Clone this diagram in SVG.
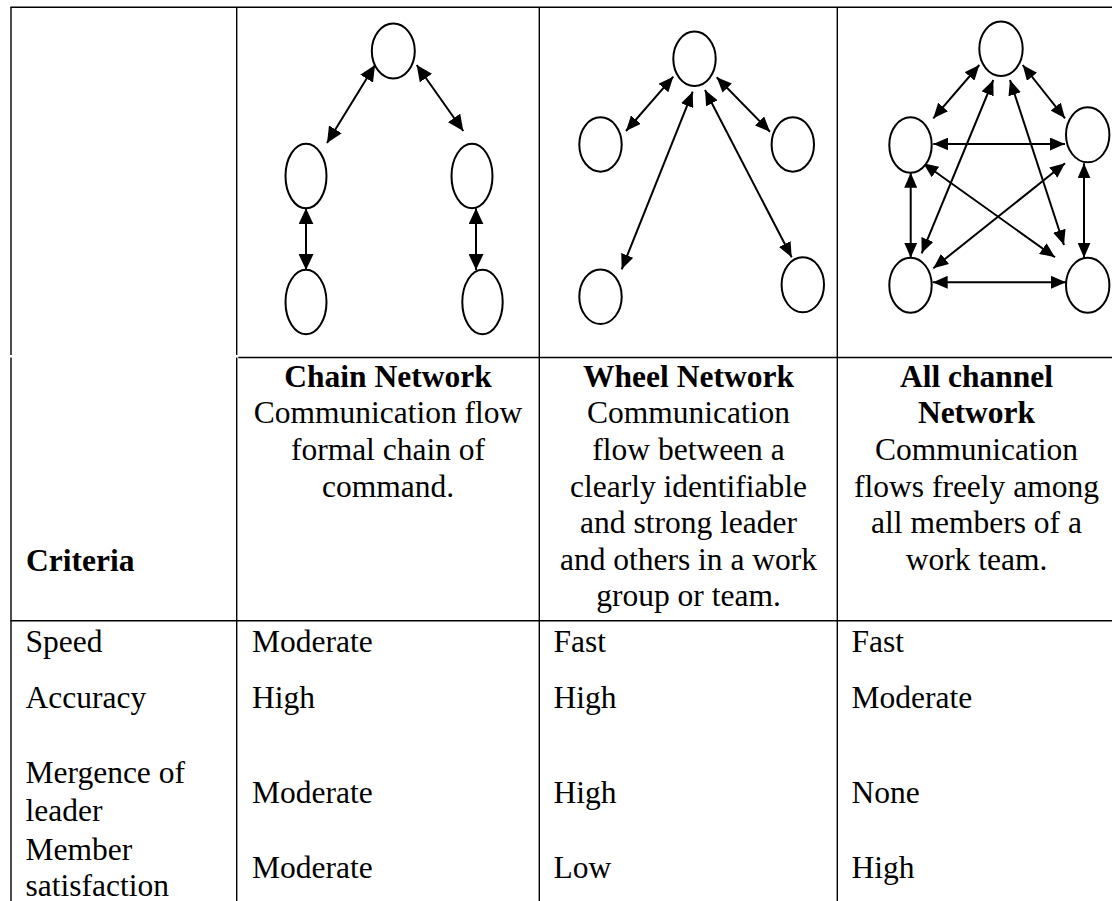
<svg xmlns="http://www.w3.org/2000/svg" width="1112" height="901" viewBox="0 0 1112 901">
  <style>
    .grid { stroke: #000; stroke-width: 1.4; fill: none; }
    .node { fill: #fff; stroke: #000; stroke-width: 2; }
    .edge { stroke: #000; stroke-width: 2; fill: none; marker-start: url(#ah); marker-end: url(#ah); }
    .edge.big { marker-start: url(#ah-big); marker-end: url(#ah-big); }
    .b { font-weight: bold; }
    .c { text-anchor: middle; }
  </style>
  <defs>
    <marker id="ah" markerUnits="userSpaceOnUse" markerWidth="15" markerHeight="13" refX="15" refY="6.5" orient="auto-start-reverse">
      <path d="M0,0 L15,6.5 L0,13 z" fill="#000"/>
    </marker>
    <marker id="ah-big" markerUnits="userSpaceOnUse" markerWidth="16" markerHeight="15" refX="16" refY="7.5" orient="auto-start-reverse">
      <path d="M0,0 L16,7.5 L0,15 z" fill="#000"/>
    </marker>
  </defs>
  <rect width="1112" height="901" fill="#fff"/>

  <!-- table rules -->
  <g id="table" class="grid">
    <line x1="10.5" y1="7.3" x2="1112" y2="7.3"/>
    <line x1="11" y1="7" x2="11" y2="355"/>
    <line x1="11" y1="357.5" x2="11" y2="901"/>
    <line x1="236.7" y1="7" x2="236.7" y2="355"/>
    <line x1="236.7" y1="357.5" x2="236.7" y2="901"/>
    <line x1="539.3" y1="7" x2="539.3" y2="901"/>
    <line x1="837.3" y1="7" x2="837.3" y2="901"/>
    <line x1="238.3" y1="357.5" x2="1112" y2="357.5"/>
    <line x1="10.5" y1="620.8" x2="1112" y2="620.8"/>
  </g>

  <!-- connectors -->
  <g id="connectors">
    <!-- chain -->
    <line class="edge big" x1="375" y1="65" x2="327" y2="143"/>
    <line class="edge big" x1="416.7" y1="65" x2="463.3" y2="131"/>
    <line class="edge big" x1="306" y1="208.3" x2="306" y2="270"/>
    <line class="edge big" x1="476" y1="208.3" x2="476" y2="270"/>
    <!-- wheel -->
    <line class="edge" x1="673.3" y1="76.7" x2="626" y2="131"/>
    <line class="edge" x1="692.7" y1="91.7" x2="621.7" y2="269.3"/>
    <line class="edge" x1="716.7" y1="77.3" x2="770" y2="131.7"/>
    <line class="edge" x1="705" y1="90" x2="791.7" y2="257.3"/>
    <!-- all channel -->
    <line class="edge" x1="979.3" y1="65" x2="933.3" y2="118.3"/>
    <line class="edge" x1="993.3" y1="80" x2="921.7" y2="253.3"/>
    <line class="edge" x1="1010" y1="80" x2="1064" y2="245"/>
    <line class="edge" x1="1022.7" y1="65" x2="1065" y2="118.3"/>
    <line class="edge" x1="933.3" y1="144" x2="1065" y2="144"/>
    <line class="edge" x1="910.7" y1="172.7" x2="910.7" y2="257.7"/>
    <line class="edge" x1="1084" y1="163.3" x2="1084" y2="257.7"/>
    <line class="edge" x1="932.7" y1="282.3" x2="1066" y2="282.3"/>
    <line class="edge" x1="923.3" y1="163.3" x2="1055" y2="257.3"/>
    <line class="edge" x1="1065" y1="163.3" x2="933.3" y2="268.3"/>
  </g>

  <!-- chain network nodes -->
  <g id="chain-top"><ellipse class="node" cx="393.3" cy="51" rx="21.5" ry="27.5"/></g>
  <g id="chain-left-mid"><ellipse class="node" cx="306" cy="176" rx="20.5" ry="32.3"/></g>
  <g id="chain-left-low"><ellipse class="node" cx="306" cy="302" rx="20.5" ry="32.2"/></g>
  <g id="chain-right-mid"><ellipse class="node" cx="472" cy="176" rx="20.5" ry="32.2"/></g>
  <g id="chain-right-low"><ellipse class="node" cx="482.5" cy="302" rx="20.2" ry="32.2"/></g>

  <!-- wheel network nodes -->
  <g id="wheel-hub"><ellipse class="node" cx="694.5" cy="58.8" rx="21.2" ry="27.2"/></g>
  <g id="wheel-left-mid"><ellipse class="node" cx="600.5" cy="144.5" rx="21.2" ry="27.2"/></g>
  <g id="wheel-left-low"><ellipse class="node" cx="600.5" cy="296.7" rx="21.2" ry="27.3"/></g>
  <g id="wheel-right-mid"><ellipse class="node" cx="792.8" cy="144.5" rx="21.2" ry="27.2"/></g>
  <g id="wheel-right-low"><ellipse class="node" cx="802.8" cy="284.8" rx="21.2" ry="27.5"/></g>

  <!-- all channel network nodes -->
  <g id="all-top"><ellipse class="node" cx="1001" cy="48.8" rx="21.7" ry="27.2"/></g>
  <g id="all-left-mid"><ellipse class="node" cx="910.5" cy="145" rx="21.2" ry="27.7"/></g>
  <g id="all-right-mid"><ellipse class="node" cx="1087.7" cy="134.8" rx="21.7" ry="27.5"/></g>
  <g id="all-left-low"><ellipse class="node" cx="910.5" cy="285.2" rx="21.2" ry="27.5"/></g>
  <g id="all-right-low"><ellipse class="node" cx="1087.7" cy="285.2" rx="21.7" ry="27.5"/></g>

  <g id="labels" font-family="'Liberation Serif', 'Times New Roman', serif" font-size="31.5" fill="#000">
    <!-- header row -->
    <g id="header-criteria">
      <text class="b" x="26" y="571">Criteria</text>
    </g>
    <g id="header-chain">
      <text class="b c" x="388" y="386.7">Chain Network</text>
      <text class="c" x="388" y="423.3">Communication flow</text>
      <text class="c" x="388" y="459.9">formal chain of</text>
      <text class="c" x="388" y="496.5">command.</text>
    </g>
    <g id="header-wheel">
      <text class="b c" x="688.5" y="386.7">Wheel Network</text>
      <text class="c" x="688.5" y="423.3">Communication</text>
      <text class="c" x="688.5" y="459.9">flow between a</text>
      <text class="c" x="688.5" y="496.5">clearly identifiable</text>
      <text class="c" x="688.5" y="533">and strong leader</text>
      <text class="c" x="688.5" y="569.6">and others in a work</text>
      <text class="c" x="688.5" y="606.2">group or team.</text>
    </g>
    <g id="header-all">
      <text class="b c" x="976.5" y="386.7">All channel</text>
      <text class="b c" x="976.5" y="423.3">Network</text>
      <text class="c" x="976.5" y="459.9">Communication</text>
      <text class="c" x="976.5" y="496.5">flows freely among</text>
      <text class="c" x="976.5" y="533">all members of a</text>
      <text class="c" x="976.5" y="569.6">work team.</text>
    </g>

    <!-- criteria rows -->
    <g id="row-speed">
      <text x="25.5" y="651.7">Speed</text>
      <text x="252" y="651.7">Moderate</text>
      <text x="553.5" y="651.7">Fast</text>
      <text x="851.5" y="651.7">Fast</text>
    </g>
    <g id="row-accuracy">
      <text x="25.5" y="708.3">Accuracy</text>
      <text x="252" y="708.3">High</text>
      <text x="553.5" y="708.3">High</text>
      <text x="851.5" y="708.3">Moderate</text>
    </g>
    <g id="row-leader">
      <text x="25.5" y="783.3">Mergence of</text>
      <text x="25.5" y="820.5">leader</text>
      <text x="252" y="803.3">Moderate</text>
      <text x="553.5" y="803.3">High</text>
      <text x="851.5" y="803.3">None</text>
    </g>
    <g id="row-satisfaction">
      <text x="25.5" y="859.5">Member</text>
      <text x="25.5" y="895.5">satisfaction</text>
      <text x="252" y="878.3">Moderate</text>
      <text x="553.5" y="878.3">Low</text>
      <text x="851.5" y="878.3">High</text>
    </g>
  </g>
</svg>
